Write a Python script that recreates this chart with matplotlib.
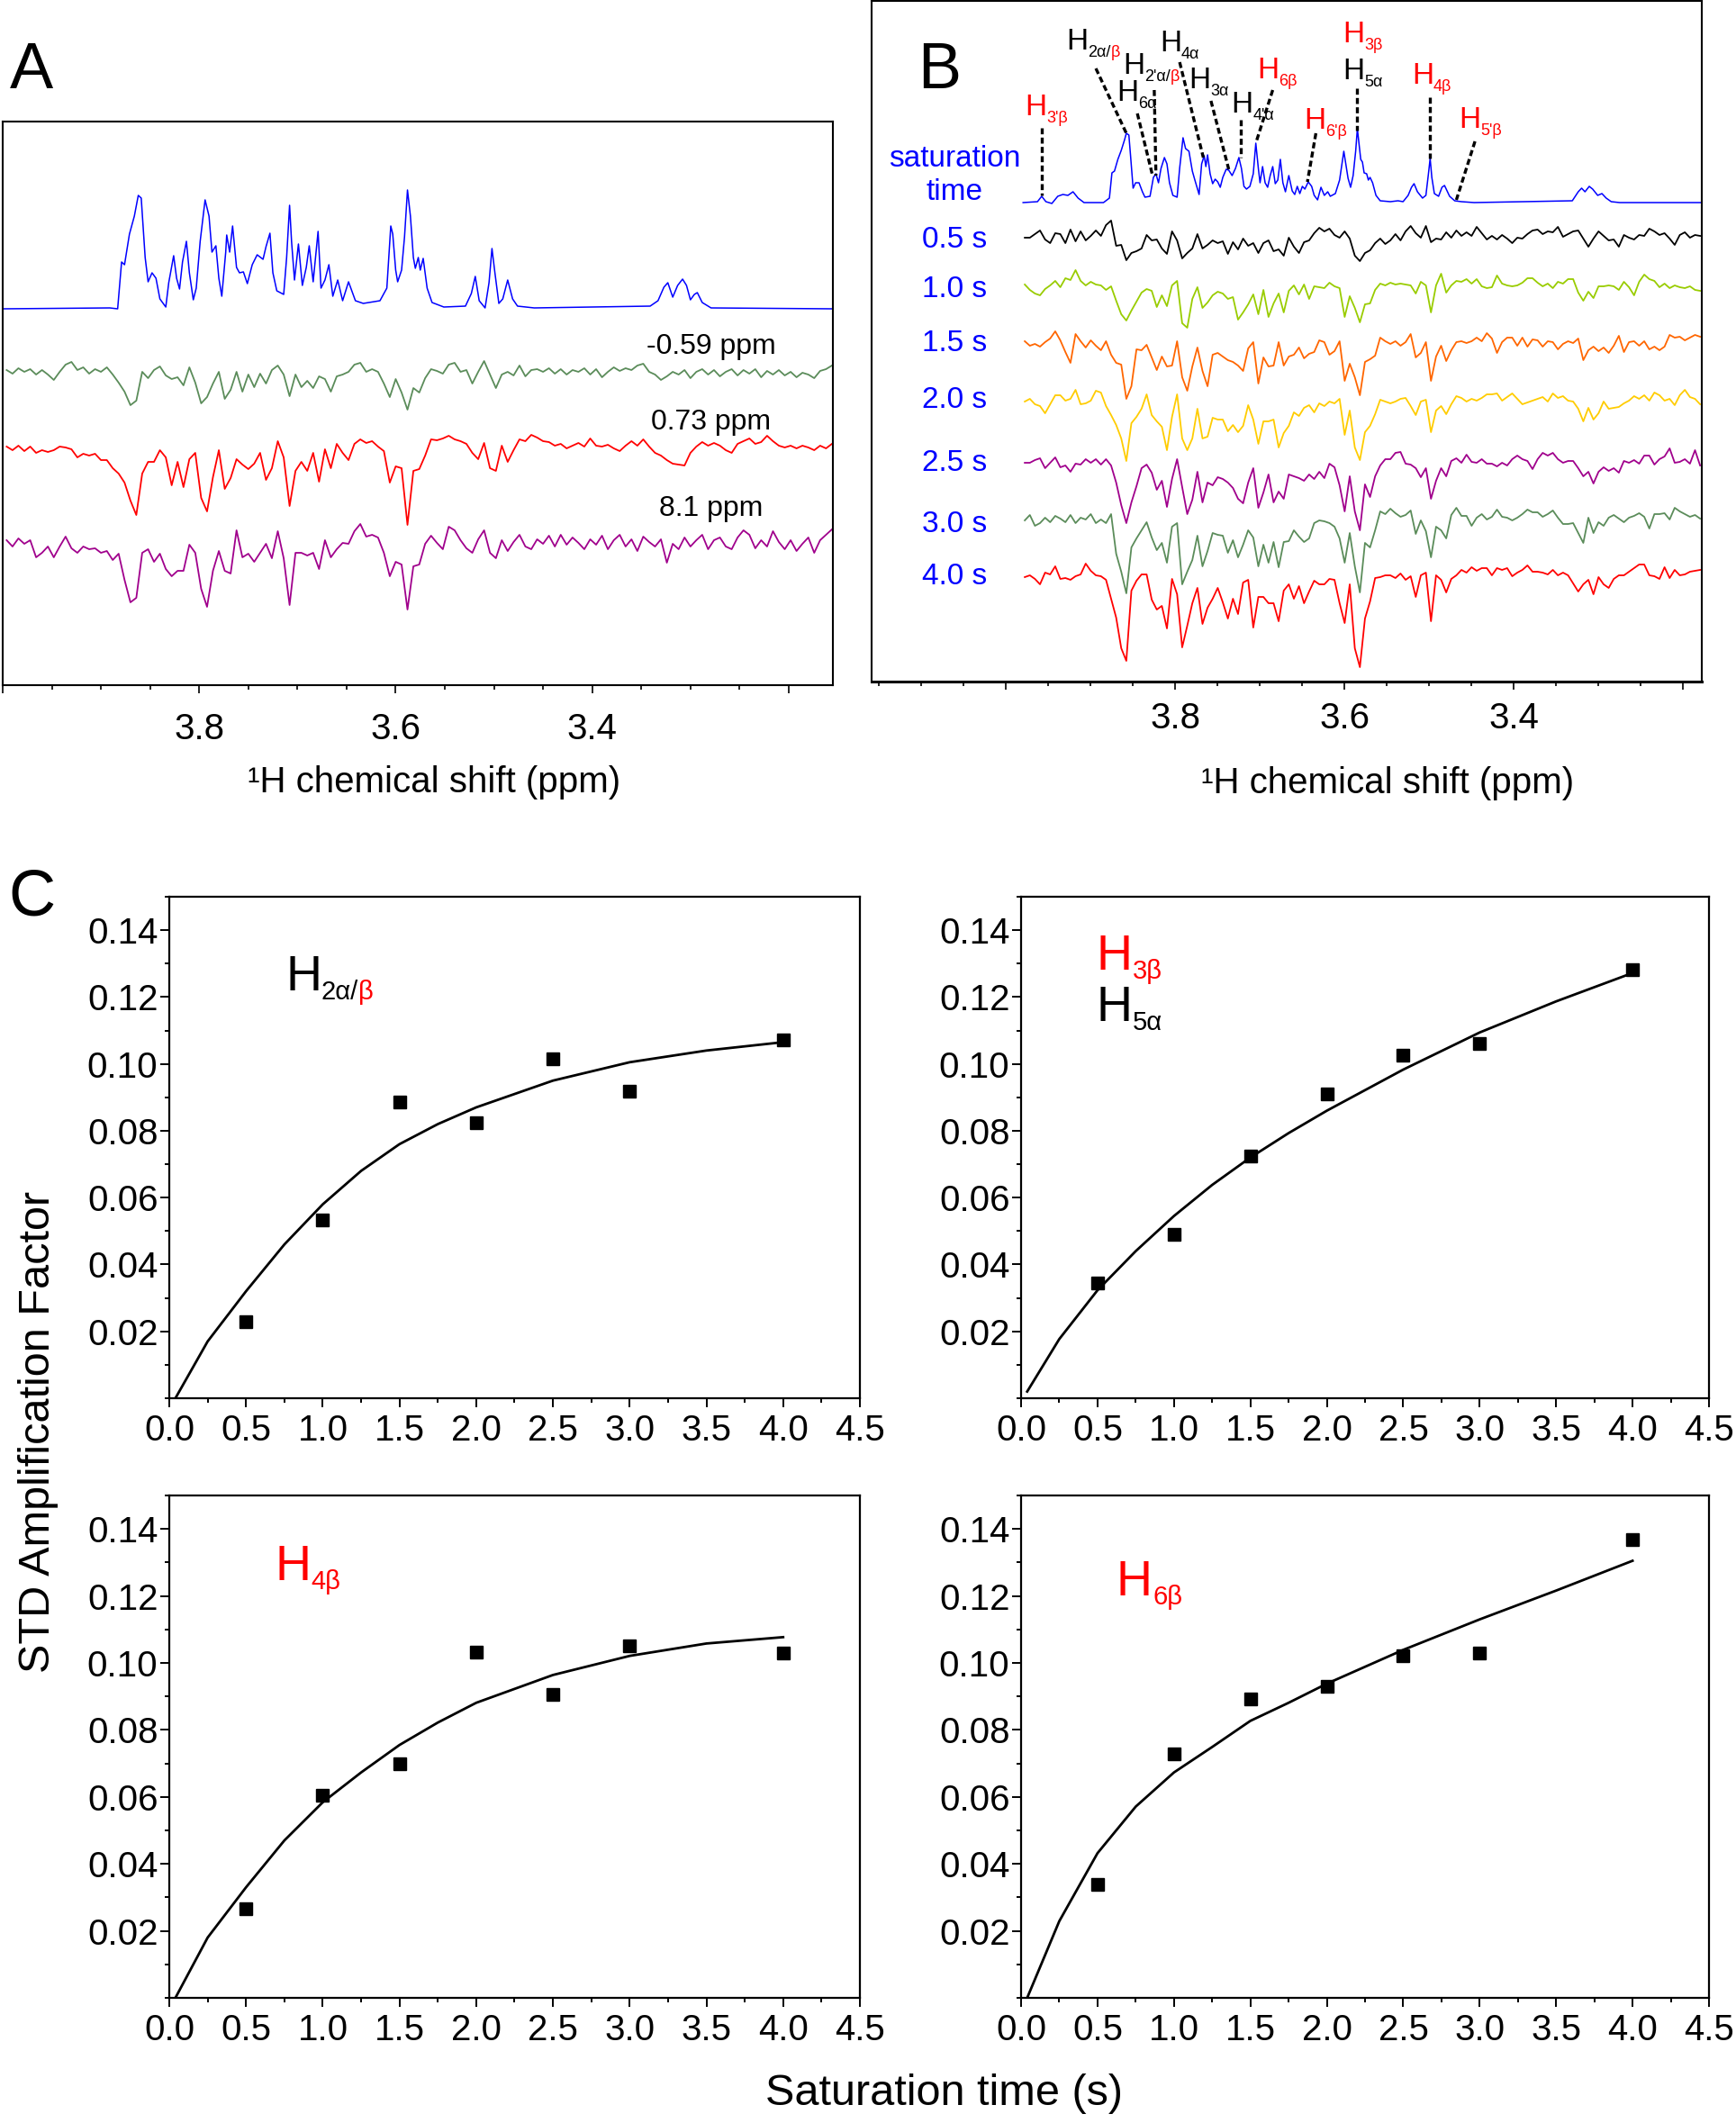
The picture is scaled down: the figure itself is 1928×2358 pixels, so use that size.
"""STD NMR figure: reference/STD spectra (A, B) and STD build-up curves (C)."""

import numpy as np
import matplotlib
matplotlib.use("Agg")
import matplotlib.pyplot as plt
from matplotlib import font_manager
from matplotlib.ticker import MultipleLocator

W, H = 1928, 2358
BASE_FONT = ["Liberation Sans", "DejaVu Sans"]
plt.rcParams["font.family"] = BASE_FONT
try:
    font_manager.findfont("Liberation Sans Narrow", fallback_to_default=False)
    NARROW_FONT = ["Liberation Sans Narrow", "Liberation Sans", "DejaVu Sans"]
    PEAK_H_SIZE, PEAK_SUB_SIZE = 27, 14.5
except ValueError:
    NARROW_FONT = BASE_FONT
    PEAK_H_SIZE, PEAK_SUB_SIZE = 24, 13

RED = "#ff0000"
BLUE = "#0000ff"

# ---------------- panel A data ----------------
# reference 1H spectrum (ppm, intensity)
ref_a_ppm = [4.0, 3.891, 3.883, 3.879, 3.876, 3.871, 3.866, 3.862, 3.859, 3.855, 3.852, 3.848,
             3.844, 3.840, 3.834, 3.831, 3.826, 3.823, 3.820, 3.817, 3.813, 3.810, 3.806, 3.803,
             3.799, 3.794, 3.790, 3.787, 3.783, 3.780, 3.777, 3.773, 3.772, 3.769, 3.766, 3.762,
             3.759, 3.755, 3.751, 3.746, 3.741, 3.735, 3.732, 3.728, 3.725, 3.721, 3.714, 3.711,
             3.708, 3.706, 3.703, 3.699, 3.695, 3.691, 3.688, 3.684, 3.679, 3.676, 3.672, 3.668,
             3.664, 3.659, 3.654, 3.648, 3.641, 3.633, 3.616, 3.609, 3.605, 3.603, 3.600, 3.598,
             3.594, 3.591, 3.588, 3.585, 3.582, 3.580, 3.577, 3.575, 3.572, 3.568, 3.563, 3.551,
             3.529, 3.523, 3.519, 3.515, 3.509, 3.505, 3.502, 3.499, 3.495, 3.491, 3.486, 3.481,
             3.476, 3.459, 3.341, 3.333, 3.327, 3.323, 3.318, 3.313, 3.308, 3.304, 3.300, 3.296,
             3.293, 3.288, 3.279, 3.155]
ref_a_int = [0, 1, 0, 52, 49, 83, 103, 126, 123, 57, 30, 40,
             34, 11, 2, 29, 59, 34, 22, 52, 75, 40, 10, 23,
             75, 121, 103, 63, 70, 34, 14, 63, 82, 63, 92, 46,
             40, 41, 28, 49, 60, 55, 69, 84, 40, 20, 16, 57,
             115, 75, 32, 72, 26, 46, 70, 30, 86, 23, 32, 49,
             14, 32, 9, 30, 9, 6, 9, 23, 92, 83, 43, 30,
             43, 80, 132, 103, 57, 45, 57, 43, 56, 23, 7, 2,
             3, 17, 36, 9, 1, 29, 67, 40, 6, 11, 32, 11,
             3, 1, 3, 9, 24, 29, 13, 26, 33, 26, 10, 16,
             18, 7, 1, 0]

# STD difference spectra on a 0.006 ppm grid starting at 3.996 ppm
std_a_start = 3.996
std_a_m059 = [2, -2, 4, 0, 3, -3, 2, -3, -9, 0, 8, 11, 2, 5, -2, 3, 0, 5, -3, -12, -22, -37, -32, 0,
              -7, 2, 6, -4, -8, -6, -15, 5, -12, -35, -28, -13, 0, -30, -20, 0, -22, -3, -17, -2,
              -13, 2, 7, -3, -27, -3, -17, -10, -18, -5, -8, -22, -5, -3, 0, 8, 10, 0, 3, 0, -13,
              -28, -8, -23, -42, -18, -23, -7, 3, 1, -2, 8, 10, 0, 2, -13, 0, 12, -3, -18, -3, 0,
              -4, 7, -5, 2, 3, 0, 4, -2, 3, -3, 2, 0, 4, -3, 3, -6, 0, 5, 1, 4, 2, 7, 9, 0, -3, -9,
              -5, 0, -3, 2, -7, 0, 3, -3, 2, -5, 0, 3, -4, 2, -2, 3, -6, 1, -3, 2, -4, 0, -6, -1,
              -3, -7, 1, 3, 7]
std_a_073 = [2, -2, 3, -3, 2, -5, -2, -4, -2, 2, 1, -1, -10, -6, -8, -6, -13, -13, -22, -28, -38,
             -58, -74, -28, -15, -15, -2, -10, -41, -15, -43, -12, -5, -55, -70, -32, -2, -45, -33,
             -12, -18, -23, -17, -5, -35, -22, 8, -10, -64, -25, -15, -25, -5, -37, -1, -22, 5, -5,
             -13, 5, 10, 6, 8, 2, -3, -38, -20, -22, -85, -25, -23, -8, 10, 9, 11, 14, 10, 8, 5,
             -5, -12, 6, -22, -25, 3, -15, -2, 10, 8, 15, 12, 8, 7, 3, 5, 0, 3, 6, 2, 11, 3, 2, 4,
             0, -3, 3, 8, 3, 10, 2, -5, -8, -13, -17, -18, -19, -5, 2, 7, 3, 6, 3, -2, -5, 5, 8,
             11, 5, 7, 14, 8, 3, 1, 3, 0, 3, 1, -2, 3, 0, 5]
std_a_81 = [2, -5, 4, -2, 2, -17, -12, -5, -17, -5, 6, -7, -12, -5, -8, -7, -12, -10, -20, -13,
            -42, -67, -62, -12, -8, -22, -13, -30, -38, -32, -32, -3, -12, -52, -72, -32, -10, -32,
            -35, 13, -17, -13, -22, -12, -2, -18, 12, -18, -70, -12, -12, -15, -12, -30, 2, -17,
            -8, -1, -2, 12, 20, 6, 8, 5, -12, -38, -22, -25, -75, -27, -25, -2, 7, -1, -8, 17, 13,
            2, -7, -12, 3, 13, -12, -18, 2, -10, 0, 8, -5, -8, 3, -2, 7, -5, 8, -3, 5, -1, -8, 3,
            -3, 7, -8, 2, 8, -5, 3, -10, 6, 0, -5, 3, -23, -2, -8, 5, -5, 2, 8, -8, 2, 5, -5, -8,
            5, 13, 8, -7, 2, -5, 12, 0, -8, 2, -10, -2, 5, -12, 2, 8, 14]
std_a_labels = ["-0.59 ppm", "0.73 ppm", "8.1 ppm"]

# ---------------- panel B data ----------------
ref_b_ppm = [3.980, 3.963, 3.958, 3.953, 3.946, 3.939, 3.933, 3.927, 3.921, 3.915, 3.908, 3.885,
             3.878, 3.875, 3.872, 3.868, 3.864, 3.860, 3.858, 3.855, 3.853, 3.850, 3.847, 3.843,
             3.839, 3.836, 3.830, 3.826, 3.823, 3.820, 3.817, 3.813, 3.810, 3.807, 3.803, 3.798,
             3.795, 3.791, 3.788, 3.784, 3.780, 3.777, 3.772, 3.769, 3.766, 3.764, 3.762, 3.759,
             3.756, 3.753, 3.750, 3.747, 3.744, 3.740, 3.737, 3.733, 3.729, 3.725, 3.722, 3.719,
             3.716, 3.712, 3.708, 3.705, 3.702, 3.700, 3.697, 3.694, 3.691, 3.688, 3.685, 3.682,
             3.679, 3.676, 3.673, 3.670, 3.666, 3.662, 3.659, 3.656, 3.653, 3.650, 3.647, 3.643,
             3.639, 3.636, 3.632, 3.628, 3.624, 3.620, 3.617, 3.611, 3.606, 3.601, 3.599, 3.596,
             3.593, 3.590, 3.587, 3.585, 3.583, 3.581, 3.579, 3.577, 3.574, 3.572, 3.570, 3.567,
             3.563, 3.558, 3.546, 3.537, 3.531, 3.525, 3.521, 3.518, 3.514, 3.508, 3.504, 3.501,
             3.499, 3.497, 3.494, 3.489, 3.485, 3.482, 3.479, 3.476, 3.470, 3.462, 3.447, 3.331,
             3.324, 3.320, 3.316, 3.311, 3.307, 3.301, 3.296, 3.291, 3.285, 3.275, 3.178]
ref_b_int = [0, 1, 7, 1, -1, 7, 9, 8, 12, 5, 0, 0,
             5, 33, 35, 48, 58, 70, 77, 75, 52, 16, 22, 22,
             12, 6, 7, 28, 32, 22, 38, 50, 43, 22, 8, 6,
             38, 72, 60, 57, 35, 25, 9, 43, 52, 40, 53, 32,
             21, 26, 23, 17, 28, 37, 36, 30, 38, 50, 38, 18,
             15, 18, 32, 66, 38, 22, 40, 22, 17, 30, 40, 21,
             25, 48, 22, 12, 30, 13, 9, 18, 10, 18, 15, 23,
             18, 8, 3, 17, 8, 12, 7, 10, 25, 57, 45, 27,
             17, 30, 57, 82, 65, 48, 45, 33, 32, 25, 28, 22,
             8, 2, 1, 2, 1, 8, 17, 21, 12, 5, 8, 32,
             49, 28, 10, 7, 17, 19, 13, 7, 2, 1, 0, 2,
             12, 16, 12, 18, 15, 8, 10, 5, 1, 0, 0]

# STD spectra vs saturation time, 0.006 ppm grid starting at 3.978 ppm
std_b_start = 3.978
sat_times = ["0.5 s", "1.0 s", "1.5 s", "2.0 s", "2.5 s", "3.0 s", "4.0 s"]
std_b_05 = [-2, -2, 2, 6, -4, -8, 3, 2, -8, 7, -6, 5, -5, 0, 6, 0, 12, 17, -11, -10, -27, -19, -17,
            -14, 1, -5, -4, -14, -20, 5, -5, -25, -19, -14, 2, -14, -10, -5, -8, -6, -20, -7, -15,
            -3, -11, -8, -19, -8, -5, -17, -15, -22, -2, -12, -19, -7, -5, 3, 9, 5, 8, 1, -2, 5,
            -3, -22, -28, -19, -16, -8, -3, -9, -5, 2, -5, 5, 11, 3, -2, 11, -7, -3, -4, 4, -2, 6,
            0, 4, 0, 10, 3, -4, 0, -4, 1, -3, -8, -2, -3, 2, 6, 7, 2, 5, 4, 10, -1, 2, 5, 6, -3,
            -12, -3, 5, 0, -5, -4, -12, 1, -2, -4, 1, 0, 8, 5, 1, 3, -3, -10, 1, 4, -2, 1, 0]
std_b_10 = [4, -2, -6, -8, -1, 3, 8, 1, 11, 9, 20, 8, 3, 7, 4, 3, -2, 2, -14, -29, -36, -25, -15,
            -5, -1, -3, -21, -8, -20, 3, 8, -39, -44, -12, 1, -22, -16, -8, -4, -6, -12, -10, -35,
            -27, -18, -7, -29, -2, -32, -17, -6, -27, -3, 3, -7, 4, -12, 2, 1, 0, 6, 2, 0, -32,
            -9, -22, -38, -18, -17, -2, 5, 3, 6, 4, 5, 4, 3, -6, 7, 3, -27, 3, 16, -5, 3, 8, 7,
            10, 5, 10, 2, 0, 1, 14, 5, 3, 2, 3, 6, 11, 11, 6, 2, 5, 0, 7, 5, 10, 10, -5, -14, -4,
            -11, 2, 2, 3, 2, -2, 7, 1, -8, 7, 15, 10, 8, 1, 5, 0, 3, 1, 0, 2, -2, -3]
std_b_15 = [3, -2, 0, -3, 2, 6, 14, 4, -9, -21, 11, 3, -4, 4, -2, -7, 3, -12, -21, -23, -61, -47,
            -6, -7, -1, -15, -29, -14, -25, -24, 3, -37, -52, -25, -4, -30, -47, -12, -10, -14,
            -18, -20, -24, -30, -5, 2, -44, -15, -25, -24, 2, -24, -14, -12, -4, -16, -11, -9, 4,
            2, -12, -8, 3, -41, -22, -37, -57, -20, -17, -13, 7, 3, 0, 3, -2, 2, 11, -15, -10, 2,
            -41, -14, -2, -19, -7, 2, 3, 1, 3, 7, 3, 12, 6, -10, 2, 7, 7, -2, 7, -3, 5, 4, -3, 3,
            2, -6, 0, 3, 1, 6, -18, -7, -3, -8, -4, -10, -2, 9, -9, 2, 3, -2, 3, -6, -3, -7, -3,
            10, 7, 8, 4, 7, 10, 8]
std_b_20 = [0, 3, -3, -5, -13, -3, 7, 7, 1, 3, 13, -3, -2, 1, 12, 10, -5, -15, -26, -41, -66, -24,
            -17, -8, 8, -15, -22, -28, -54, -17, 8, -41, -54, -41, -8, -41, -39, -18, -20, -20,
            -33, -26, -34, -27, -4, -20, -47, -22, -22, -20, -51, -35, -27, -12, -16, -7, -4, -12,
            -2, -5, 0, -2, 3, -37, -10, -51, -65, -34, -27, -14, 2, 0, -2, 0, 3, 4, -5, -15, 0, 2,
            -34, -10, -5, -14, -3, 6, 4, 0, 3, 1, 4, 8, 8, 9, 1, 5, 9, 3, -3, -1, 1, 3, 5, 0, 9,
            4, 6, 1, 0, -8, -22, -7, -20, -13, 0, -8, -7, -6, -2, 1, 6, 3, 7, 1, 10, 7, 1, 3, -4,
            7, 13, 5, 3, -3]
std_b_25 = [3, 3, 6, 8, -3, 3, 9, -2, 0, -7, 2, 1, 7, 3, 7, 1, 7, 0, -19, -44, -64, -41, -23, -3,
            1, -8, -27, -17, -46, -15, 7, -24, -54, -38, -7, -41, -19, -22, -13, -15, -19, -25,
            -37, -42, -19, -3, -47, -30, -10, -41, -29, -37, -10, -12, -14, -17, -10, -15, -7,
            -14, 2, -2, -22, -51, -12, -51, -72, -21, -35, -12, 0, 7, 7, 14, 15, 2, 1, -3, -13,
            -3, -37, -17, -3, -12, 5, 8, 3, 12, 4, 3, 7, 2, 2, -1, 3, 0, 7, 11, 7, 5, -4, 7, 14,
            11, 14, 7, 3, 5, 5, -3, -12, -7, -20, -7, -2, -6, -3, -8, 5, 3, 6, 2, 11, 11, 1, 7,
            10, 19, 3, 4, 7, 2, 17, 0]
std_b_30 = [0, 6, -6, -3, 3, -2, 5, 2, -2, 6, -3, 3, 1, 7, -3, 1, -3, 7, -37, -57, -81, -30, -20,
            -11, -2, -19, -33, -25, -47, -7, -3, -71, -57, -44, -17, -51, -34, -14, -16, -17, -36,
            -22, -41, -27, -11, -19, -51, -27, -47, -24, -52, -24, -23, -11, -18, -24, -20, -3, 0,
            -1, -3, -7, -20, -47, -14, -51, -80, -25, -30, -11, 10, 7, 13, 8, 4, 6, 11, -15, 0,
            -12, -41, -7, -11, -20, 6, 14, 5, 5, -6, 3, 7, 1, 4, 12, 4, 3, 0, 3, 7, 12, 9, 9, 4,
            7, 11, 3, -4, -4, -3, -14, -25, 3, -14, -2, -6, 3, 6, 2, -2, 3, 5, 8, 4, -9, 7, 7, 8,
            1, 14, 10, 7, 4, 6, 2]
std_b_40 = [0, 2, -2, -8, 5, 3, 12, -2, -1, -3, 1, 3, 15, 7, 2, 1, -3, -24, -45, -79, -93, -15,
            -4, 3, 3, -25, -36, -32, -57, -2, -19, -78, -54, -29, -12, -52, -34, -24, -12, -28,
            -46, -24, -41, -6, -3, -56, -22, -22, -29, -29, -49, -15, -8, -24, -10, -29, -16, -4,
            -8, -8, -2, -3, -29, -51, -8, -79, -100, -46, -27, -1, 0, 2, 2, -1, 4, -3, 1, -22, 2,
            5, -49, 2, -3, -17, -2, 2, 8, 5, 11, 7, 10, 10, 2, 10, 8, 10, 1, 5, 8, 13, 6, 6, 5, 3,
            8, 2, 5, 2, -7, -16, -8, -3, -19, 0, -8, -12, -2, 2, 2, 6, 10, 14, 14, 2, 1, -2, 11,
            -1, 8, 2, 3, 6, 7, 8]

# dashed assignment leaders: (ppm, height) of label end and of the peak
leader_top_ppm = [3.958, 3.894, 3.825, 3.845, 3.795, 3.758, 3.723, 3.685, 3.634, 3.586, 3.499, 3.446]
leader_top_h = [615, 681, 657, 631, 688, 645, 624, 657, 609, 659, 649, 600]
leader_peak_ppm = [3.958, 3.858, 3.823, 3.827, 3.767, 3.737, 3.723, 3.705, 3.644, 3.586, 3.499, 3.468]
leader_peak_h = [540, 609, 562, 562, 582, 569, 582, 598, 555, 612, 581, 535]

# ---------------- panel C data ----------------
sat_t = [0.5, 1.0, 1.5, 2.0, 2.5, 3.0, 4.0]
amp_h2 = [0.0230, 0.0533, 0.0887, 0.0825, 0.1015, 0.0919, 0.1071]
amp_h3b_h5a = [0.0344, 0.0489, 0.0724, 0.0909, 0.1027, 0.1062, 0.1281]
amp_h4b = [0.0267, 0.0605, 0.0698, 0.1033, 0.0905, 0.1051, 0.1029]
amp_h6b = [0.0339, 0.0729, 0.0893, 0.0931, 0.1022, 0.1029, 0.1368]

fit_t = [0.04, 0.25, 0.5, 0.75, 1.0, 1.25, 1.5, 1.75, 2.0, 2.5, 3.0, 3.5, 4.0]
fit_h2 = [0.0, 0.017, 0.032, 0.046, 0.058, 0.068, 0.076, 0.082, 0.087, 0.095, 0.1005, 0.104, 0.1065]
fit_h3b_h5a = [0.002, 0.0177, 0.0323, 0.044, 0.0545, 0.0638, 0.072, 0.0793, 0.086, 0.0983, 0.1094,
               0.1187, 0.1272]
fit_h4b = [0.0, 0.018, 0.033, 0.047, 0.0584, 0.0673, 0.0755, 0.0822, 0.0881, 0.0964, 0.1021, 0.1058,
           0.1077]
fit_h6b = [0.0, 0.0229, 0.0432, 0.0571, 0.0673, 0.0749, 0.0827, 0.0881, 0.0938, 0.1039, 0.113,
           0.1216, 0.1305]


fig = plt.figure(figsize=(W / 100, H / 100), dpi=100)
renderer = fig.canvas.get_renderer()


def add_axes_px(left, top, right, bottom):
    return fig.add_axes([left / W, 1 - bottom / H, (right - left) / W, (bottom - top) / H])


def text_px(x, y, s, **kw):
    return fig.text(x / W, 1 - y / H, s, **kw)


def rich_px(x, y, parts, family=BASE_FONT):
    # parts: (text, colour, fontsize, baseline shift in px)
    for s, color, size, dy in parts:
        t = text_px(x, y + dy, s, color=color, fontsize=size, family=family,
                    ha="left", va="baseline")
        x = t.get_window_extent(renderer).x1


def grid(start, values):
    n = len(values)
    return np.linspace(start, start - 0.006 * (n - 1), n)


def spectrum_axes(ax, xlim, ylim, pad):
    ax.set_xlim(*xlim)
    ax.set_ylim(*ylim)
    ax.set_yticks([])
    ax.set_xticks([4.0, 3.8, 3.6, 3.4, 3.2], labels=["", "3.8", "3.6", "3.4", ""])
    ax.xaxis.set_minor_locator(MultipleLocator(0.05))
    ax.tick_params(axis="x", which="major", direction="out", length=6.5, width=1.2,
                   labelsize=29, pad=pad)
    ax.tick_params(axis="x", which="minor", direction="out", length=3.5, width=1.2)
    for sp in ax.spines.values():
        sp.set_linewidth(1.5)


# ---------- A ----------
ax_a = add_axes_px(3, 135, 925, 761)
spectrum_axes(ax_a, (4.0, 3.155), (0, 626), pad=15)
ax_a.plot(ref_a_ppm, 418 + np.array(ref_a_int), color=BLUE, lw=1.1)
for vals, base, col in [(std_a_m059, 348, "#5b8c5a"), (std_a_073, 263, RED), (std_a_81, 159, "#a0008c")]:
    ax_a.plot(grid(std_a_start, vals), base + np.array(vals), color=col, lw=1.3)
for lab, yb in zip(std_a_labels, [393, 477, 573]):
    text_px(790, yb, lab, fontsize=23, ha="center", va="baseline")
text_px(11, 98, "A", fontsize=52, va="baseline")
text_px(482, 880, "\u00b9H chemical shift (ppm)", fontsize=29, ha="center", va="baseline")

# ---------- B ----------
ax_b = add_axes_px(968, 1, 1890, 757)
spectrum_axes(ax_b, (4.159, 3.178), (0, 756), pad=9)
ax_b.spines["bottom"].set_linewidth(2.2)
ax_b.plot(ref_b_ppm, 532 + np.array(ref_b_int), color=BLUE, lw=1.1)
std_b = [std_b_05, std_b_10, std_b_15, std_b_20, std_b_25, std_b_30, std_b_40]
b_bases = [495, 437, 375, 311, 240, 179, 116]
b_colors = ["black", "#99cc00", "#ff6600", "#ffcc00", "#a0008c", "#5b8c5a", RED]
for vals, base, col in zip(std_b, b_bases, b_colors):
    ax_b.plot(grid(std_b_start, vals), base + np.array(vals), color=col, lw=1.3)
for x0, y0, x1, y1 in zip(leader_top_ppm, leader_top_h, leader_peak_ppm, leader_peak_h):
    ax_b.plot([x0, x1], [y0, y1], color="black", lw=2.4, ls=(0, (2.0, 1.1)))

label_y = [275, 330, 390, 453, 523, 591, 649]
text_px(1060, 185, "saturation", color=BLUE, fontsize=24, ha="center", va="baseline")
text_px(1060, 222, "time", color=BLUE, fontsize=24, ha="center", va="baseline")
for lab, yb in zip(sat_times, label_y):
    text_px(1060, yb, lab, color=BLUE, fontsize=24, ha="center", va="baseline")

peak_labels = [
    (1138, 128, RED, [("3'\u03b2", RED)]),
    (1184, 55, "black", [("2\u03b1/", "black"), ("\u03b2", RED)]),
    (1247, 82, "black", [("2'\u03b1/", "black"), ("\u03b2", RED)]),
    (1240, 112, "black", [("6\u03b1", "black")]),
    (1288, 57, "black", [("4\u03b1", "black")]),
    (1320, 98, "black", [("3\u03b1", "black")]),
    (1367, 125, "black", [("4'\u03b1", "black")]),
    (1396, 87, RED, [("6\u03b2", RED)]),
    (1448, 143, RED, [("6'\u03b2", RED)]),
    (1491, 47, RED, [("3\u03b2", RED)]),
    (1491, 88, "black", [("5\u03b1", "black")]),
    (1568, 93, RED, [("4\u03b2", RED)]),
    (1620, 142, RED, [("5'\u03b2", RED)]),
]
for x, y, hcol, subs in peak_labels:
    parts = [("H", hcol, PEAK_H_SIZE, 0)] + [(s, c, PEAK_SUB_SIZE, 8) for s, c in subs]
    rich_px(x, y, parts, family=NARROW_FONT)
text_px(1019, 98, "B", fontsize=52, va="baseline")
text_px(1541, 881, "\u00b9H chemical shift (ppm)", fontsize=29, ha="center", va="baseline")

# ---------- C ----------
def kinetics_axes(ax):
    ax.set_xlim(0, 4.5)
    ax.set_ylim(0, 0.15)
    xt = np.arange(0, 4.51, 0.5)
    yt = np.arange(0.02, 0.141, 0.02)
    ax.set_xticks(xt, labels=[f"{v:.1f}" for v in xt])
    ax.set_yticks(yt, labels=[f"{v:.2f}" for v in yt])
    ax.xaxis.set_minor_locator(MultipleLocator(0.25))
    ax.yaxis.set_minor_locator(MultipleLocator(0.01))
    ax.tick_params(which="major", direction="out", length=7, width=1.4, labelsize=29)
    ax.tick_params(axis="x", which="major", pad=5)
    ax.tick_params(axis="y", which="major", pad=2)
    ax.tick_params(which="minor", direction="out", length=3.6, width=1.4)
    for sp in ax.spines.values():
        sp.set_linewidth(1.6)


c_boxes = [(188, 996, 955, 1553), (1134, 996, 1898, 1553),
           (188, 1661, 955, 2219), (1134, 1661, 1898, 2219)]
c_points = [amp_h2, amp_h3b_h5a, amp_h4b, amp_h6b]
c_fits = [fit_h2, fit_h3b_h5a, fit_h4b, fit_h6b]
for box, pts, fit in zip(c_boxes, c_points, c_fits):
    ax = add_axes_px(*box)
    kinetics_axes(ax)
    ax.plot(fit_t, fit, color="black", lw=2.0)
    ax.plot(sat_t, pts, "s", color="black", ms=9.5)

rich_px(317, 1100, [("H", "black", 40, 0), ("2\u03b1/", "black", 21, 10), ("\u03b2", RED, 21, 10)])
rich_px(1218, 1077, [("H", RED, 40, 0), ("3\u03b2", RED, 21, 10)])
rich_px(1218, 1134, [("H", "black", 40, 0), ("5\u03b1", "black", 21, 10)])
rich_px(305, 1755, [("H", RED, 40, 0), ("4\u03b2", RED, 21, 10)])
rich_px(1240, 1772, [("H", RED, 40, 0), ("6\u03b2", RED, 21, 10)])

text_px(9, 1016, "C", fontsize=52, va="baseline")
text_px(43, 1590, "STD Amplification Factor", fontsize=35, rotation=90, ha="center", va="center")
text_px(1049, 2338, "Saturation time (s)", fontsize=35, ha="center", va="baseline")

fig.savefig("out.png", dpi=100)
